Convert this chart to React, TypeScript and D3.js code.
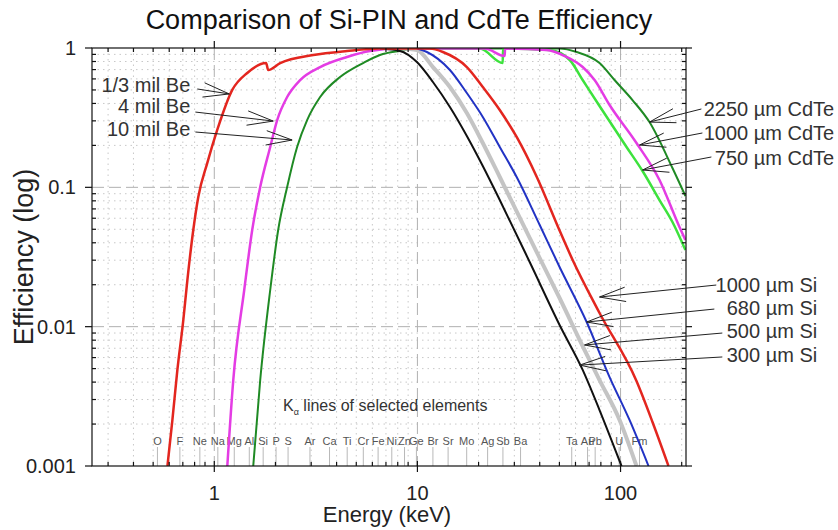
import React from 'react';
import * as d3 from 'd3';

type Pt = [number, number]; // [energy keV, efficiency]

// curves (energy in keV, efficiency 0..1)
// 1/3 mil Be window joined with the 1000 um Si absorption edge
const red13milBe1000Si: Pt[] = [
	[0.588, 0.001], [0.622, 0.00214], [0.658, 0.00489], [0.704, 0.0112], [0.737, 0.0216],
	[0.788, 0.0494], [0.834, 0.0853], [0.924, 0.15], [1.034, 0.258], [1.226, 0.5],
	[1.453, 0.662], [1.8, 0.78], [1.842, 0.695], [2.11, 0.78], [3.07, 0.891], [4.5, 0.952],
	[6.54, 0.99], [11.5, 0.99], [13.35, 0.936], [17.51, 0.73], [20.98, 0.525], [25.43, 0.359],
	[30.8, 0.2298], [38.7, 0.1186], [50.1, 0.049], [58.1, 0.0301], [78.8, 0.01253],
	[119.8, 0.00407], [143.6, 0.00207], [172.2, 0.001],
];
// 4 mil Be window joined with 1000 um CdTe
const magenta4milBe1000CdTe: Pt[] = [
	[1.159, 0.001], [1.24, 0.00414], [1.404, 0.01833], [1.537, 0.0494], [1.683, 0.1006],
	[1.885, 0.1948], [2.04, 0.304], [2.284, 0.445], [2.646, 0.589], [3.32, 0.73], [4.5, 0.862],
	[5.84, 0.952], [8.2, 0.99], [21.5, 0.99], [26.9, 0.876], [27.0, 0.99], [43.3, 0.967],
	[53.1, 0.876], [65.1, 0.73], [74.5, 0.589], [88.3, 0.39], [119.8, 0.208], [155.5, 0.1129],
	[195, 0.0519], [208.6, 0.0419],
];
// 10 mil Be window joined with 2250 um CdTe
const green10milBe2250CdTe: Pt[] = [
	[1.555, 0.001], [1.683, 0.00414], [1.885, 0.01833], [2.063, 0.0494], [2.284, 0.1006],
	[2.557, 0.1948], [2.864, 0.304], [3.32, 0.445], [4.16, 0.619], [5.4, 0.78], [6.54, 0.891],
	[8.2, 0.952], [10.29, 0.99], [50.1, 0.99], [60.8, 0.936], [78.8, 0.78], [93.4, 0.589],
	[114.5, 0.423], [138.8, 0.294], [180.1, 0.1376], [208.6, 0.0867],
];
const lightGreen750CdTe: Pt[] = [
	[10, 0.99], [20.3, 0.99], [26.3, 0.78], [26.4, 0.99], [44.8, 0.967], [56.2, 0.82],
	[65.1, 0.589], [78.8, 0.3835], [107, 0.1948], [128.3, 0.131], [155.5, 0.0811],
	[180.1, 0.0564], [208.6, 0.0355],
];
const black300Si: Pt[] = [
	[6.54, 0.99], [8.2, 0.952], [9.94, 0.793], [11.92, 0.57], [14.45, 0.377], [17.51, 0.2335],
	[20.98, 0.1422], [25.43, 0.0811], [35.7, 0.0291], [50.1, 0.01028], [65.1, 0.00489],
	[78.8, 0.00252], [101.1, 0.001],
];
const gray500Si: Pt[] = [
	[8.2, 0.99], [9.94, 0.967], [11.92, 0.73], [14.45, 0.525], [17.51, 0.3416], [20.98, 0.208],
	[25.43, 0.1186], [35.7, 0.0433], [50.1, 0.01606], [66.5, 0.0068], [78.8, 0.00414],
	[98.9, 0.00214], [119.8, 0.001],
];
const blue680Si: Pt[] = [
	[9.94, 0.99], [11.13, 0.936], [14.45, 0.695], [17.51, 0.475], [20.98, 0.32], [25.43, 0.1948],
	[30.8, 0.1186], [40, 0.0537], [50.1, 0.0268], [68.1, 0.0108], [88.3, 0.00435],
	[110.7, 0.00214], [137.3, 0.001],
];

const series = [
	{ data: green10milBe2250CdTe, color: '#1f8a24', width: 2 },
	{ data: lightGreen750CdTe, color: '#3de23d', width: 2.5 },
	{ data: magenta4milBe1000CdTe, color: '#e43ce4', width: 2.5 },
	{ data: gray500Si, color: '#c4c4c4', width: 4 },
	{ data: black300Si, color: '#111111', width: 2 },
	{ data: blue680Si, color: '#2233c4', width: 2 },
	{ data: red13milBe1000Si, color: '#e3261f', width: 2.5 },
];

// K-alpha lines
const elementNames = ['O', 'F', 'Ne', 'Na', 'Mg', 'Al', 'Si', 'P', 'S', 'Ar', 'Ca', 'Ti', 'Cr', 'Fe', 'Ni', 'Zn', 'Ge', 'Br', 'Sr', 'Mo', 'Ag', 'Sb', 'Ba', 'Ta', 'Au', 'Pb', 'U', 'Fm'];
const elementKa = [0.525, 0.677, 0.849, 1.041, 1.254, 1.487, 1.74, 2.014, 2.308, 2.958, 3.692, 4.511, 5.415, 6.404, 7.478, 8.639, 9.886, 11.92, 14.16, 17.48, 22.16, 26.36, 32.19, 57.5, 68.8, 75.0, 98.4, 124];

const xMajorTicks = [1, 10, 100];
const xTickLabels = ['1', '10', '100'];
const yMajorTicks = [0.001, 0.01, 0.1, 1];
const yTickLabels = ['0.001', '0.01', '0.1', '1'];

// annotations: label, arrow tail, arrow tip (data coords)
const annotationText = ['1/3 mil Be', '4 mil Be', '10 mil Be', '2250 \u00b5m CdTe', '1000 \u00b5m CdTe', '750 \u00b5m CdTe', '1000 \u00b5m Si', '680 \u00b5m Si', '500 \u00b5m Si', '300 \u00b5m Si'];
const annotationAt: Pt[] = [[0.762, 0.483], [0.762, 0.3416], [0.762, 0.2335], [1126, 0.325], [1126, 0.2186], [1126, 0.1446], [929, 0.01773], [929, 0.01213], [929, 0.00829], [929, 0.00558]];
const annotationTail: Pt[] = [[0.825, 0.508], [0.807, 0.347], [0.807, 0.2495], [250, 0.365], [252.9, 0.2455], [280, 0.1651], [296, 0.0199], [289.6, 0.01338], [317, 0.009], [317, 0.00606]];
const annotationTip: Pt[] = [[1.185, 0.468], [1.95, 0.299], [2.416, 0.2186], [138.8, 0.294], [124, 0.2012], [128.3, 0.1331], [78.8, 0.01632], [68.1, 0.0108], [66.5, 0.00739], [62.9, 0.0053]];

const margin = { top: 48, right: 152, bottom: 64, left: 92 };
const W = 838;
const H = 530;
const FONT = 'Liberation Sans, Arial, Helvetica, sans-serif';

export default function App() {
	const x = d3.scaleLog().domain([0.25, 210]).range([margin.left, W - margin.right]);
	const y = d3.scaleLog().domain([0.001, 1]).range([H - margin.bottom, margin.top]);
	const x0 = x.range()[0], x1 = x.range()[1];
	const y0 = y.range()[0], y1 = y.range()[1];

	const line = d3.line<Pt>().x(d => x(d[0])).y(d => y(d[1])).curve(d3.curveMonotoneX);

	const isMajor = (v: number) => Math.abs(Math.log10(v) - Math.round(Math.log10(v))) < 1e-6;
	const xMinor = x.ticks().filter(v => !isMajor(v));
	const yMinor = y.ticks().filter(v => !isMajor(v));

	const arrow = (tail: Pt, tip: Pt) => {
		const tx = x(tip[0]), ty = y(tip[1]);
		const sx = x(tail[0]), sy = y(tail[1]);
		const ang = Math.atan2(sy - ty, sx - tx);
		const len = 27, spread = 0.27;
		const b1 = [tx + len * Math.cos(ang + spread), ty + len * Math.sin(ang + spread)];
		const b2 = [tx + len * Math.cos(ang - spread), ty + len * Math.sin(ang - spread)];
		return `M${sx},${sy}L${tx},${ty}M${b1[0]},${b1[1]}L${tx},${ty}L${b2[0]},${b2[1]}`;
	};

	return (
		<svg width={W} height={H} style={{ position: 'absolute', left: 0, top: 0, background: '#fff' }} fontFamily={FONT}>
			<defs>
				<clipPath id="plot-clip">
					<rect x={x0} y={y1} width={x1 - x0} height={y0 - y1} />
				</clipPath>
			</defs>

			{/* minor grid */}
			<g stroke="#c8c8c8" strokeWidth={1} strokeDasharray="1.5,4">
				{xMinor.map(v => <line key={'gx' + v} x1={x(v)} x2={x(v)} y1={y1} y2={y0} />)}
				{yMinor.map(v => <line key={'gy' + v} x1={x0} x2={x1} y1={y(v)} y2={y(v)} />)}
			</g>
			{/* major grid */}
			<g stroke="#b0b0b0" strokeWidth={1} strokeDasharray="12,5">
				{xMajorTicks.map(v => <line key={'Gx' + v} x1={x(v)} x2={x(v)} y1={y1} y2={y0} />)}
				{yMajorTicks.slice(1, -1).map(v => <line key={'Gy' + v} x1={x0} x2={x1} y1={y(v)} y2={y(v)} />)}
			</g>

			{/* K-alpha markers */}
			<g>
				{elementKa.map((e, i) => (
					<g key={elementNames[i]}>
						<line x1={x(e)} x2={x(e)} y1={y0 - 19} y2={y0} stroke="#b8b8b8" strokeWidth={1} />
						<text x={x(e)} y={y0 - 21} textAnchor="middle" fontSize={11} fill="#555">{elementNames[i]}</text>
					</g>
				))}
				<text x={x(2.18)} y={y(0.00248)} fontSize={16} fill="#333">
					K<tspan fontSize={9} dy={4}>{'\u03b1'}</tspan><tspan dy={-4}> lines of selected elements</tspan>
				</text>
			</g>

			{/* curves */}
			<g clipPath="url(#plot-clip)" fill="none" strokeLinejoin="round">
				{series.map((s, i) => (
					<path key={i} d={line(s.data) || ''} stroke={s.color} strokeWidth={s.width} />
				))}
			</g>

			{/* frame and ticks */}
			<g stroke="#111" strokeWidth={1.2}>
				<rect x={x0} y={y1} width={x1 - x0} height={y0 - y1} fill="none" />
				{xMajorTicks.map(v => (
					<g key={'tx' + v}>
						<line x1={x(v)} x2={x(v)} y1={y0 - 5} y2={y0 + 6} />
						<line x1={x(v)} x2={x(v)} y1={y1 - 7} y2={y1} />
					</g>
				))}
				{xMinor.map(v => (
					<g key={'mx' + v}>
						<line x1={x(v)} x2={x(v)} y1={y0 - 4} y2={y0} />
						<line x1={x(v)} x2={x(v)} y1={y1} y2={y1 + 4} />
					</g>
				))}
				{yMajorTicks.map(v => (
					<g key={'ty' + v}>
						<line x1={x0 - 7} x2={x0} y1={y(v)} y2={y(v)} />
						<line x1={x1} x2={x1 + 6} y1={y(v)} y2={y(v)} />
					</g>
				))}
				{yMinor.map(v => (
					<g key={'my' + v}>
						<line x1={x0} x2={x0 + 4} y1={y(v)} y2={y(v)} />
						<line x1={x1 - 4} x2={x1} y1={y(v)} y2={y(v)} />
					</g>
				))}
			</g>

			{/* tick labels */}
			<g fontSize={20} fill="#222">
				{xMajorTicks.map((v, i) => (
					<text key={'lx' + v} x={x(v)} y={y0 + 34} textAnchor="middle">{xTickLabels[i]}</text>
				))}
				{yMajorTicks.map((v, i) => (
					<text key={'ly' + v} x={x0 - 16} y={y(v) + 7} textAnchor="end">{yTickLabels[i]}</text>
				))}
			</g>

			{/* annotations */}
			<g fontSize={20} fill="#333">
				{annotationText.map((t, i) => (
					<g key={t}>
						<path d={arrow(annotationTail[i], annotationTip[i])} stroke="#222" strokeWidth={1} fill="none" />
						<text x={x(annotationAt[i][0])} y={y(annotationAt[i][1])} textAnchor="end">{t}</text>
					</g>
				))}
			</g>

			{/* titles */}
			<text x={399} y={29} textAnchor="middle" fontSize={27} fill="#111">Comparison of Si-PIN and CdTe Efficiency</text>
			<text x={(x0 + x1) / 2 - 2} y={H - 8} textAnchor="middle" fontSize={22} fill="#222">Energy (keV)</text>
			<text transform={`translate(33,${(y0 + y1) / 2}) rotate(-90)`} textAnchor="middle" fontSize={27} fill="#222">Efficiency (log)</text>
		</svg>
	);
}
